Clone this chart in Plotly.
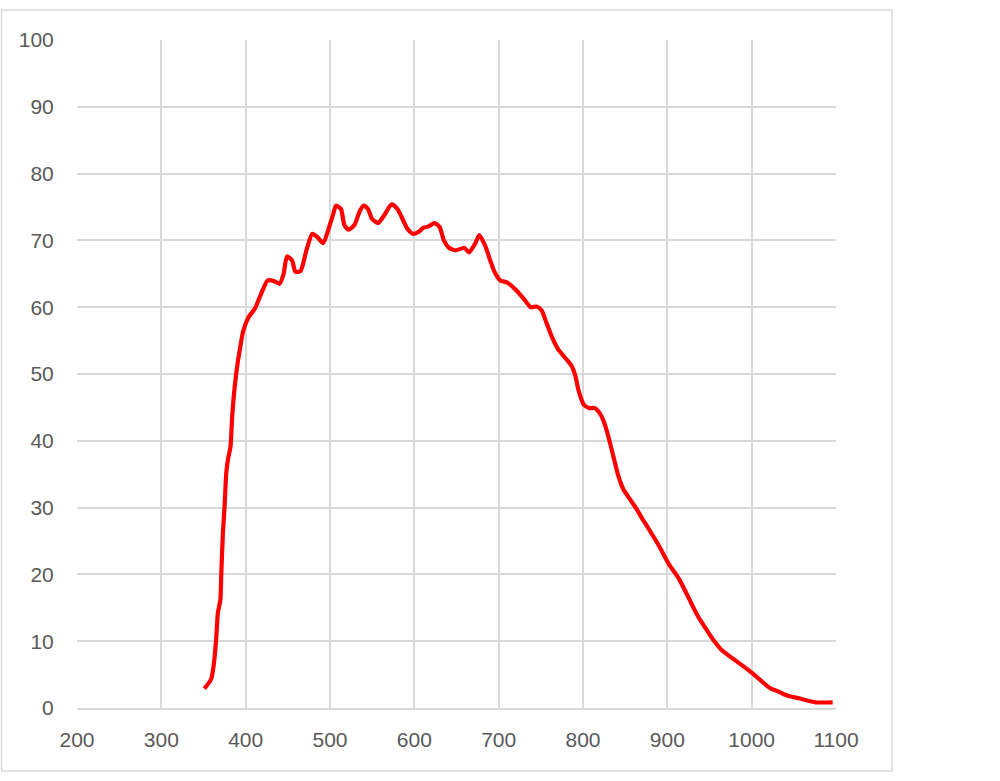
import plotly.graph_objects as go

wavelength_nm = [351, 359, 362, 365, 367, 370, 371, 373, 375, 377, 379, 382, 384, 387, 391, 393, 397,
                 403, 411, 416, 420, 426, 434, 440, 445, 449, 455, 459, 465, 472, 479, 485, 492, 499,
                 504, 507, 513, 517, 522, 529, 535, 540, 545, 550, 557, 564, 573, 580, 586, 592, 598,
                 604, 611, 617, 624, 630, 635, 641, 649, 659, 665, 672, 677, 684, 690, 695, 702, 710,
                 722, 730, 738, 745, 751, 756, 763, 771, 779, 787, 791, 795, 801, 807, 814, 821, 826,
                 831, 836, 842, 848, 856, 864, 870, 878, 890, 902, 914, 926, 936, 946, 955, 965, 981,
                 997, 1011, 1022, 1032, 1040, 1056, 1076, 1096]
response = [2.9, 4.3, 6.3, 10.3, 14.2, 16.2, 19.7, 26.2, 30.2, 35.2, 37.2, 39.1, 43.6, 48.1, 52.1, 53.6, 56.4,
            58.4, 59.8, 61.3, 62.5, 64.0, 63.9, 63.5, 65.0, 67.6, 67.0, 65.3, 65.4, 68.5, 71.0, 70.5, 69.6, 72.0,
            74.0, 75.2, 74.7, 72.3, 71.6, 72.3, 74.3, 75.2, 74.7, 73.2, 72.6, 73.7, 75.4, 74.7, 73.2, 71.7, 71.0,
            71.2, 71.9, 72.1, 72.6, 72.0, 70.0, 68.9, 68.5, 68.9, 68.2, 69.5, 70.8, 69.2, 67.0, 65.3, 64.0, 63.7,
            62.4, 61.2, 60.0, 60.1, 59.5, 57.9, 55.6, 53.6, 52.4, 51.1, 49.7, 47.4, 45.4, 44.9, 44.9, 43.9, 42.4,
            40.2, 37.7, 34.7, 32.7, 31.2, 29.7, 28.4, 26.8, 24.3, 21.5, 19.3, 16.3, 13.8, 11.8, 10.1, 8.6, 7.1,
            5.6, 4.1, 2.95, 2.45, 1.95, 1.45, 0.85, 0.85]

x_ticks = [200, 300, 400, 500, 600, 700, 800, 900, 1000, 1100]
y_ticks = [0, 10, 20, 30, 40, 50, 60, 70, 80, 90, 100]

GRID = "#d9d9d9"
TXT = "#595959"

fig = go.Figure()
fig.add_trace(go.Scatter(x=wavelength_nm, y=response, mode="lines",
                         line=dict(color="#ff0000", width=4.2, shape="spline", smoothing=0.6),
                         showlegend=False, hoverinfo="x+y"))

L, R, T, B = 77, 836, 40, 708
W, H = 1000, 781
fig.update_layout(
    width=W, height=H,
    margin=dict(l=L, r=W - R, t=T, b=H - B, pad=0),
    paper_bgcolor="white", plot_bgcolor="white",
    font=dict(family="Liberation Sans, Arial, sans-serif", size=21, color=TXT),
)
fig.update_xaxes(range=[200, 1100], tickvals=x_ticks, showgrid=True, gridcolor=GRID, gridwidth=1.5,
                 showline=True, linecolor=GRID, linewidth=1.5, zeroline=False,
                 ticks="outside", ticklen=12, tickcolor="rgba(0,0,0,0)", mirror=False)
fig.update_yaxes(range=[0, 100], tickvals=y_ticks, showgrid=True, gridcolor=GRID, gridwidth=1.5,
                 showline=False, zeroline=False,
                 ticks="outside", ticklen=18, tickcolor="rgba(0,0,0,0)")

# outer chart-area border
def px_to_paper_x(px):
    return (px - L) / (R - L)

def px_to_paper_y(py):
    return (B - py) / (B - T)

fig.add_shape(type="rect", xref="paper", yref="paper",
              x0=px_to_paper_x(1.5), x1=px_to_paper_x(892),
              y0=px_to_paper_y(771), y1=px_to_paper_y(10),
              line=dict(color=GRID, width=1.5), fillcolor="rgba(0,0,0,0)", layer="below")

fig.write_html("out.html", config={"displayModeBar": False},
               post_script="document.body.style.margin='0px';document.body.style.overflow='hidden';")
